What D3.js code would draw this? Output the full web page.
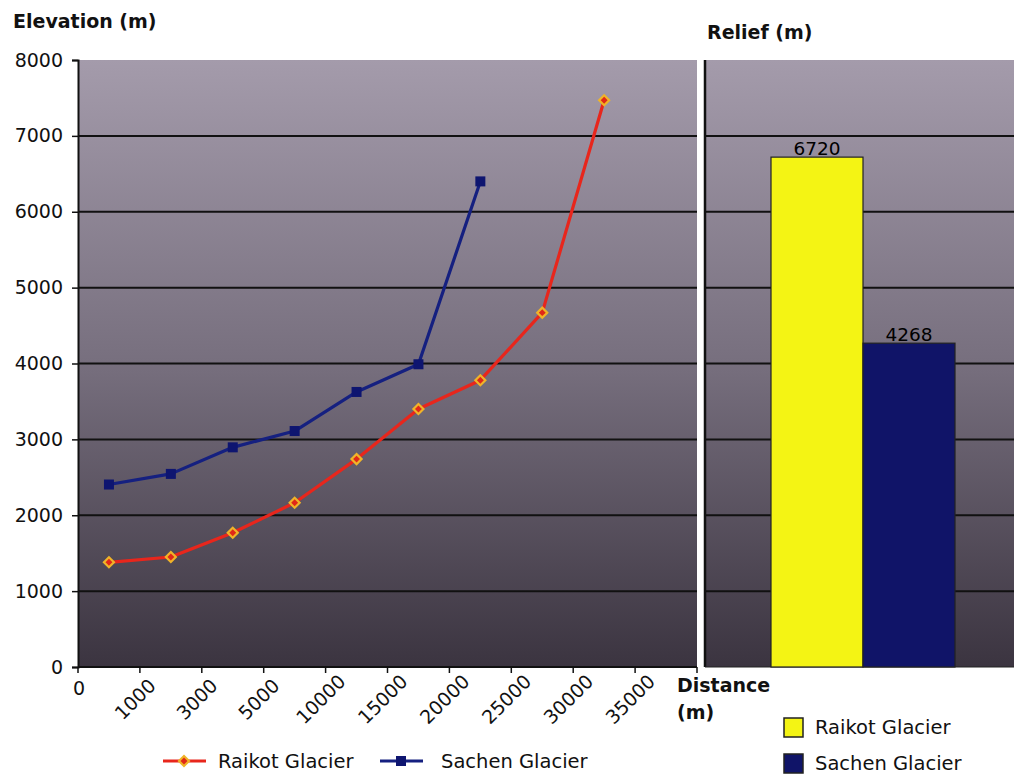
<!DOCTYPE html>
<html><head><meta charset="utf-8">
<script src="https://cdn.jsdelivr.net/npm/d3@7"></script>
<style>body{margin:0;background:#fff}svg{display:block}</style>
</head><body>
<svg id="c" width="1014" height="774"></svg>
<script>
const xLabels = ["0","1000","3000","5000","10000","15000","20000","25000","30000","35000"];
const raikot = [1380,1450,1770,2165,2740,3400,3780,4670,7470];
const sachen = [2405,2545,2895,3110,3625,3990,6400];
const glaciers = ["Raikot Glacier","Sachen Glacier"];
const relief = [6720,4268];
const yTicks = [0,1000,2000,3000,4000,5000,6000,7000,8000];

(function(){
const svg = d3.select("#c");
const font = "DejaVu Sans, Verdana, sans-serif";
const pTop = 60, pBottom = 667;
const y = d3.scaleLinear().domain([0,8000]).range([pBottom, pTop]);
const x = d3.scaleBand().domain(d3.range(xLabels.length)).range([78,697]).padding(0);
const bw = x.bandwidth();

const defs = svg.append("defs");
const g = defs.append("linearGradient").attr("id","bg").attr("x1",0).attr("y1",0).attr("x2",0).attr("y2",1);
g.append("stop").attr("offset","0%").attr("stop-color","#a49bab");
g.append("stop").attr("offset","50%").attr("stop-color","#776f7e");
g.append("stop").attr("offset","100%").attr("stop-color","#3b3440");

svg.append("rect").attr("x",78).attr("y",pTop).attr("width",697-78).attr("height",pBottom-pTop).attr("fill","url(#bg)");
const rx0 = 705, rx1 = 1014;
svg.append("rect").attr("x",rx0).attr("y",pTop).attr("width",rx1-rx0).attr("height",pBottom-pTop).attr("fill","url(#bg)");

const grid = yTicks.filter(d=>d>0 && d<8000);
svg.append("g").selectAll("line").data(grid).join("line")
  .attr("x1",78).attr("x2",697).attr("y1",d=>y(d)).attr("y2",d=>y(d))
  .attr("stroke","#111").attr("stroke-width",2);
svg.append("g").selectAll("line").data(grid).join("line")
  .attr("x1",rx0).attr("x2",rx1).attr("y1",d=>y(d)).attr("y2",d=>y(d))
  .attr("stroke","#111").attr("stroke-width",2);

const yAxis = svg.append("g").attr("transform","translate(78,0)")
  .call(d3.axisLeft(y).tickValues(yTicks).tickFormat(d3.format("d")).tickSize(6).tickPadding(9));
yAxis.select(".domain").attr("stroke","#111").attr("stroke-width",2);
yAxis.selectAll(".tick line").attr("stroke","#111").attr("stroke-width",1.5);
yAxis.selectAll("text").attr("font-family",font).attr("font-size","19px").attr("fill","#111");

const xAxis = svg.append("g").attr("transform",`translate(0,${pBottom})`);
xAxis.append("line").attr("x1",78).attr("x2",697).attr("y1",0).attr("y2",0).attr("stroke","#111").attr("stroke-width",2);
const tickPos = d3.range(xLabels.length+1).map(i => i < xLabels.length ? x(i) : x(i-1)+bw);
xAxis.selectAll("line.t").data(tickPos).join("line").attr("class","t")
  .attr("x1",d=>d).attr("x2",d=>d).attr("y1",0).attr("y2",6).attr("stroke","#111").attr("stroke-width",1.5);
xAxis.selectAll("text").data(xLabels).join("text")
  .attr("font-family",font).attr("font-size","19px").attr("fill","#111")
  .attr("text-anchor","middle").attr("dominant-baseline","central")
  .attr("transform",(d,i)=> i===0 ? `translate(${x(i)+1},21)` : `translate(${x(i)-5},32) rotate(-45)`)
  .text(d=>d);

svg.append("line").attr("x1",rx0).attr("x2",rx0).attr("y1",pTop).attr("y2",pBottom).attr("stroke","#111").attr("stroke-width",2.5);
svg.append("line").attr("x1",rx0).attr("x2",rx1).attr("y1",pBottom).attr("y2",pBottom).attr("stroke","#222").attr("stroke-width",1);

const cx = i => x(i) + bw/2;
const line = d3.line().x((d,i)=>cx(i)).y(d=>y(d));
svg.append("path").datum(raikot).attr("d",line).attr("fill","none").attr("stroke","#e8261c").attr("stroke-width",3.2).attr("stroke-linejoin","round");
svg.append("path").datum(sachen).attr("d",line).attr("fill","none").attr("stroke","#152080").attr("stroke-width",3.2).attr("stroke-linejoin","round");
const diamond = d3.symbol().type(d3.symbolSquare).size(50);
svg.append("g").selectAll("path").data(raikot).join("path")
  .attr("d",diamond).attr("transform",(d,i)=>`translate(${cx(i)},${y(d)}) rotate(45)`)
  .attr("fill","#e02818").attr("stroke","#f0b428").attr("stroke-width",2.2);
svg.append("g").selectAll("rect").data(sachen).join("rect")
  .attr("x",(d,i)=>cx(i)-5).attr("y",d=>y(d)-5).attr("width",10).attr("height",10)
  .attr("fill","#0e1570");

const xb = d3.scaleBand().domain(glaciers).range([771,955]).padding(0);
const barColors = ["#f4f414","#101468"];
svg.append("g").selectAll("rect").data(relief).join("rect")
  .attr("x",(d,i)=>xb(glaciers[i])).attr("y",d=>y(d)).attr("width",xb.bandwidth()).attr("height",d=>pBottom-y(d))
  .attr("fill",(d,i)=>barColors[i]).attr("stroke","#222").attr("stroke-width",1.2);
svg.append("g").selectAll("text").data(relief).join("text")
  .attr("x",(d,i)=>xb(glaciers[i])+xb.bandwidth()/2).attr("y",d=>y(d)-2)
  .attr("text-anchor","middle").attr("font-family",font).attr("font-size","18.5px").attr("fill","#000")
  .text(d=>d);

const bold = t => t.attr("font-family",font).attr("font-weight","bold").attr("font-size","19px").attr("fill","#111");
bold(svg.append("text").attr("x",13).attr("y",28).text("Elevation (m)"));
bold(svg.append("text").attr("x",707).attr("y",39).text("Relief (m)"));
bold(svg.append("text").attr("x",677).attr("y",692).text("Distance"));
bold(svg.append("text").attr("x",677).attr("y",719).text("(m)"));

const lcol = ["#e8261c","#152080"];
const lx = [163, 380], tx = [218, 441];
glaciers.forEach((name,i)=>{
  svg.append("line").attr("x1",lx[i]).attr("x2",lx[i]+43).attr("y1",761).attr("y2",761).attr("stroke",lcol[i]).attr("stroke-width",3);
  if(i===0) svg.append("path").attr("d",diamond).attr("transform",`translate(${lx[i]+21},761) rotate(45)`).attr("fill","#e02818").attr("stroke","#f0b428").attr("stroke-width",2.2);
  else svg.append("rect").attr("x",lx[i]+21-5).attr("y",756).attr("width",10).attr("height",10).attr("fill","#0e1570");
  svg.append("text").attr("x",tx[i]).attr("y",761).attr("dominant-baseline","central")
    .attr("font-family",font).attr("font-size","19.5px").attr("fill","#111").text(name);
});
glaciers.forEach((name,i)=>{
  const yy = 727 + i*36;
  svg.append("rect").attr("x",784).attr("y",yy-9).attr("width",19).attr("height",19).attr("fill",barColors[i]).attr("stroke","#222").attr("stroke-width",1.5);
  svg.append("text").attr("x",815).attr("y",yy).attr("dominant-baseline","central")
    .attr("font-family",font).attr("font-size","19.5px").attr("fill","#111").text(name);
});
})();
</script>
</body></html>
